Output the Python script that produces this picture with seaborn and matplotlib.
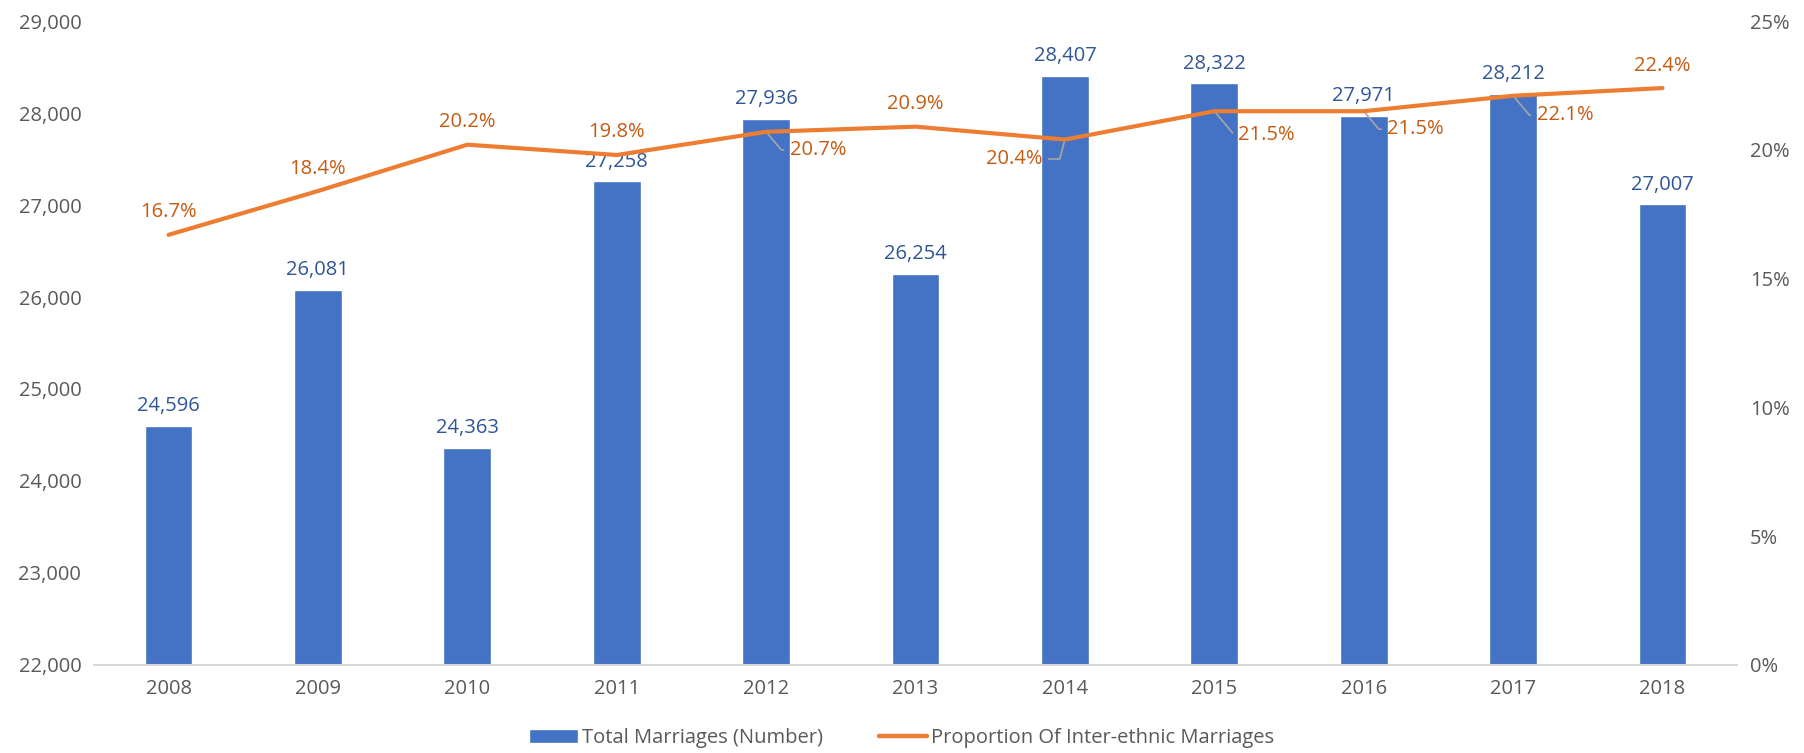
import numpy as np
import pandas as pd
import matplotlib
matplotlib.use("Agg")
import matplotlib.pyplot as plt
import matplotlib.ticker as mticker
from matplotlib.patches import Patch
from matplotlib.lines import Line2D
import seaborn as sns

years = ['2008', '2009', '2010', '2011', '2012', '2013', '2014', '2015', '2016', '2017', '2018']
total_marriages = [24596, 26081, 24363, 27258, 27936, 26254, 28407, 28322, 27971, 28212, 27007]
interethnic_pct = [16.7, 18.4, 20.2, 19.8, 20.7, 20.9, 20.4, 21.5, 21.5, 22.1, 22.4]

bar_color = '#4472C4'
line_color = '#ED7D31'
bar_label_color = '#2F5597'
line_label_color = '#C55A11'
tick_color = '#595959'
fs = 14.5

sns.set_style('white')
plt.rcParams['font.family'] = ['Open Sans', 'DejaVu Sans']

df = pd.DataFrame({'year': years, 'total': total_marriages, 'pct': interethnic_pct})

fig = plt.figure(figsize=(18.04, 7.53), dpi=100)
ax = fig.add_axes([0.052, 0.117, 0.911, 0.855])
sns.barplot(data=df, x='year', y='total', color=bar_color, width=0.32,
            saturation=1, ax=ax)
ax.set_ylim(22000, 29000)
ax.yaxis.set_major_locator(mticker.MultipleLocator(1000))
ax.yaxis.set_major_formatter(mticker.StrMethodFormatter('{x:,.0f}'))
ax.set_xlabel('')
ax.set_ylabel('')
ax.set_xlim(-0.5, len(years) - 0.5)

for i, v in enumerate(total_marriages):
    ax.annotate(f'{v:,}', (i, v), xytext=(0, 7), textcoords='offset points',
                ha='center', va='bottom', fontsize=fs, color=bar_label_color)

ax2 = ax.twinx()
sns.lineplot(x=np.arange(len(years)), y=interethnic_pct, color=line_color,
             linewidth=3.0, ax=ax2, solid_capstyle='round')
ax2.set_ylim(0, 25)
ax2.yaxis.set_major_locator(mticker.MultipleLocator(5))
ax2.yaxis.set_major_formatter(mticker.FuncFormatter(lambda v, p: f'{v:.0f}%'))
ax2.set_xlim(-0.5, len(years) - 0.5)

# labels moved off the line get a grey leader line: (dx, dy, ha, leader angle)
placements = {
    4: (17, -13, 'left', -50),
    6: (-16, -14, 'right', 75),
    7: (17, -17, 'left', -50),
    8: (17, -13, 'left', -50),
    9: (17, -14, 'left', -50),
}
for i, v in enumerate(interethnic_pct):
    if i in placements:
        dx, dy, ha, ang = placements[i]
        ax2.annotate(f'{v:.1f}%', (i, v), xytext=(dx, dy), textcoords='offset points',
                     ha=ha, va='center', fontsize=fs, color=line_label_color,
                     arrowprops=dict(arrowstyle='-', color='#A6A6A6', lw=1.2,
                                     shrinkA=2, shrinkB=2,
                                     connectionstyle='angle,angleA=0,angleB=%d' % ang))
    else:
        ax2.annotate(f'{v:.1f}%', (i, v), xytext=(0, 9), textcoords='offset points',
                     ha='center', va='bottom', fontsize=fs, color=line_label_color)

for a in (ax, ax2):
    for s in ('top', 'left', 'right', 'bottom'):
        a.spines[s].set_visible(False)
    a.tick_params(length=0, labelsize=fs, colors=tick_color)
ax.spines['bottom'].set_visible(True)
ax.spines['bottom'].set_color('#D9D9D9')
ax.spines['bottom'].set_linewidth(1.5)
ax.tick_params(axis='x', pad=10)
ax.tick_params(axis='y', pad=9)
ax2.tick_params(axis='y', pad=9)

handles = [Patch(facecolor=bar_color, label='Total Marriages (Number)'),
           Line2D([0], [0], color=line_color, lw=3.2, label='Proportion Of Inter-ethnic Marriages')]
leg = fig.legend(handles=handles, loc='center', bbox_to_anchor=(0.5, 0.02), ncol=2,
                 frameon=False, fontsize=fs, handlelength=2.4, handletextpad=0.2,
                 columnspacing=2.8)
for t in leg.get_texts():
    t.set_color(tick_color)

fig.savefig('out.png', dpi=100)
